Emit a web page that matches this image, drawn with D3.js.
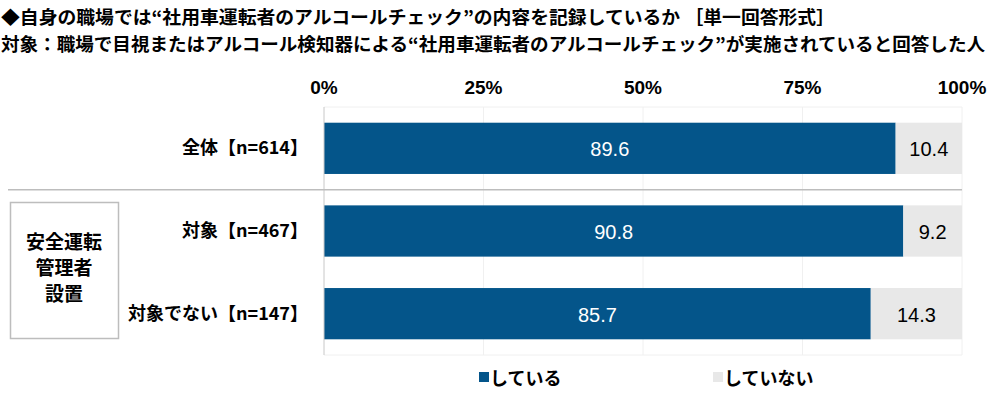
<!DOCTYPE html>
<html>
<head>
<meta charset="utf-8">
<script src="https://cdn.jsdelivr.net/npm/d3@7"></script>
<style>
body { margin: 0; background: #fff; }
text { font-family: "Noto Sans CJK JP", sans-serif; }
</style>
</head>
<body>
<script>
let categories = ["全体【n=614】", "対象【n=467】", "対象でない【n=147】"];
let doing = [89.6, 90.8, 85.7];
let notDoing = [10.4, 9.2, 14.3];
let ticks = [0, 25, 50, 75, 100];
let seriesNames = ["している", "していない"];
let colors = ["#04558a", "#e8e8e8"];

let width = 1000;
let height = 394;
let numFont = "'Liberation Sans', Arial, sans-serif";

let svg = d3.select("body").append("svg").attr("width", width).attr("height", height);

// titles
svg.append("text")
.attr("x", 1).attr("y", 24)
.attr("font-size", 18).attr("font-weight", "bold")
.attr("textLength", 834).attr("lengthAdjust", "spacingAndGlyphs")
.text("◆自身の職場では“社用車運転者のアルコールチェック”の内容を記録しているか ［単一回答形式］");

svg.append("text")
.attr("x", 1).attr("y", 51)
.attr("font-size", 18).attr("font-weight", "bold")
.attr("textLength", 984).attr("lengthAdjust", "spacingAndGlyphs")
.text("対象：職場で目視またはアルコール検知器による“社用車運転者のアルコールチェック”が実施されていると回答した人");

let x = d3.scaleLinear().domain([0, 100]).range([324, 962]);
let y = d3.scaleBand().domain(categories).range([107, 355]).paddingInner(0.38).paddingOuter(0.19);

// grid / frame
svg.selectAll(".grid")
.data(ticks.slice(1))
.join("line")
.attr("x1", d => x(d)).attr("x2", d => x(d))
.attr("y1", 107).attr("y2", 355)
.attr("stroke", "#f0f0f0");

svg.append("line").attr("x1", x(0)).attr("x2", x(100)).attr("y1", 107).attr("y2", 107).attr("stroke", "#f0f0f0");
svg.append("line").attr("x1", x(0)).attr("x2", x(100)).attr("y1", 355).attr("y2", 355).attr("stroke", "#f0f0f0");

// tick labels
svg.selectAll(".tick")
.data(ticks)
.join("text")
.attr("x", d => x(d)).attr("y", 94)
.attr("text-anchor", "middle")
.attr("font-size", 19).attr("font-weight", "bold")
.style("font-family", numFont)
.text(d => d + "%");

let rows = categories.map((c, i) => ({ cat: c, a: doing[i], b: notDoing[i] }));

svg.selectAll(".barA")
.data(rows)
.join("rect")
.attr("x", x(0)).attr("y", d => y(d.cat))
.attr("width", d => x(d.a) - x(0)).attr("height", y.bandwidth())
.attr("fill", colors[0]);

svg.selectAll(".barB")
.data(rows)
.join("rect")
.attr("x", d => x(d.a)).attr("y", d => y(d.cat))
.attr("width", d => x(d.a + d.b) - x(d.a)).attr("height", y.bandwidth())
.attr("fill", colors[1]);

svg.selectAll(".labA")
.data(rows)
.join("text")
.attr("x", d => x(d.a / 2)).attr("y", d => y(d.cat) + y.bandwidth() / 2 + 8)
.attr("text-anchor", "middle").attr("fill", "#fff")
.attr("font-size", 20)
.style("font-family", numFont)
.text(d => d.a.toFixed(1));

svg.selectAll(".labB")
.data(rows)
.join("text")
.attr("x", d => x(d.a + d.b / 2)).attr("y", d => y(d.cat) + y.bandwidth() / 2 + 8)
.attr("text-anchor", "middle").attr("fill", "#000")
.attr("font-size", 20)
.style("font-family", numFont)
.text(d => d.b.toFixed(1));

// axis line
svg.append("line").attr("x1", x(0)).attr("x2", x(0)).attr("y1", 107).attr("y2", 355).attr("stroke", "#c8c8c8");

// category labels
svg.selectAll(".cat")
.data(categories)
.join("text")
.attr("x", 308).attr("y", d => y(d) + y.bandwidth() / 2 + 6)
.attr("text-anchor", "end")
.attr("font-size", 18).attr("font-weight", "bold")
.text(d => d);

// separator
let sep = (y(categories[0]) + y.bandwidth() + y(categories[1])) / 2;
svg.append("line").attr("x1", 8).attr("x2", x(100)).attr("y1", sep).attr("y2", sep).attr("stroke", "#bdbdbd").attr("stroke-width", 1.5);

// group box
svg.append("rect").attr("x", 10.5).attr("y", 202.5).attr("width", 108).attr("height", 136)
.attr("fill", "none").attr("stroke", "#bdbdbd").attr("stroke-width", 1.5);
["安全運転", "管理者", "設置"].forEach((t, i) => {
  svg.append("text").attr("x", 64).attr("y", 249 + i * 26)
  .attr("text-anchor", "middle").attr("font-size", 19).attr("font-weight", "bold")
  .text(t);
});

// legend
let legX = [479, 713];
seriesNames.forEach((s, i) => {
  svg.append("rect").attr("x", legX[i]).attr("y", 372).attr("width", 10).attr("height", 10).attr("fill", colors[i]);
  svg.append("text").attr("x", legX[i] + 11).attr("y", 385)
  .attr("font-size", 18).attr("font-weight", "bold").text(s);
});
</script>
</body>
</html>
